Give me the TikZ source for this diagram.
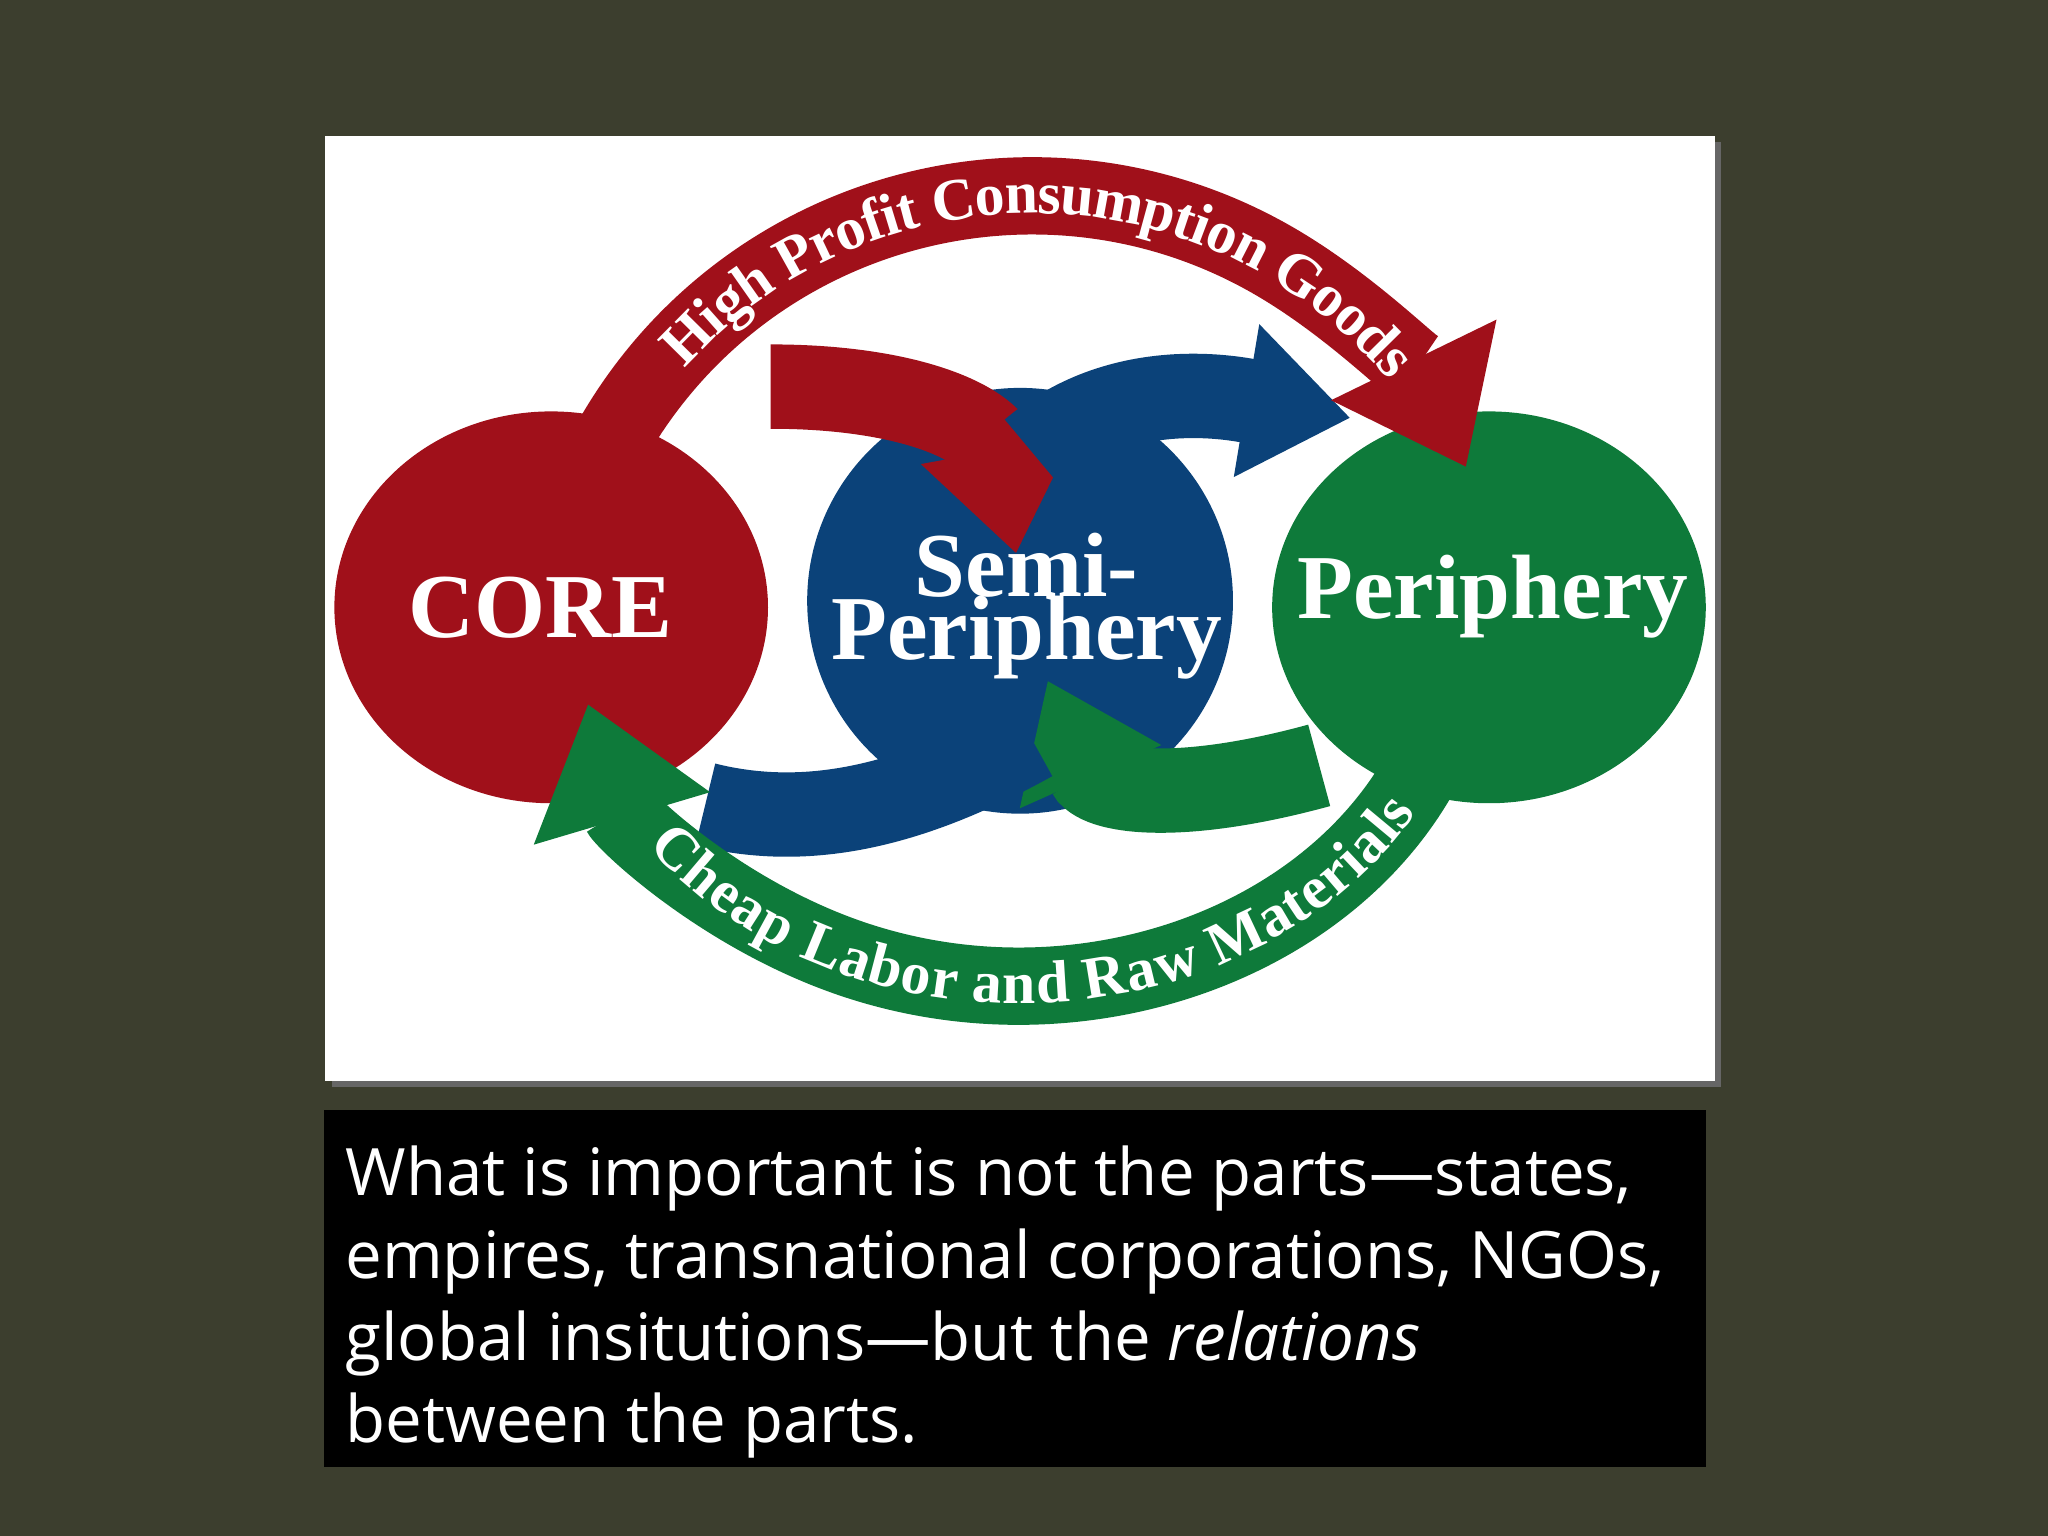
\documentclass[tikz,border=0pt]{standalone}
\usepackage{fontspec}
\setmainfont{Liberation Serif}
\newfontfamily\bodyfont{Open Sans}
\usetikzlibrary{arrows.meta,decorations.text}
\definecolor{bg}{HTML}{3C3E2E}
\definecolor{cred}{HTML}{A0101A}
\definecolor{cblue}{HTML}{0B4279}
\definecolor{cgreen}{HTML}{0E7A3A}
\tikzset{
 lbl/.style={text=white,font=\bfseries\fontsize{26}{26}\selectfont,align=center,inner sep=0},
 band/.style={line width=22pt},
 bigtip/.style={-{Triangle[width=50pt,length=34pt]}},
 smalltip/.style={-{Triangle[width=42pt,length=30pt]}},
}
\begin{document}
\begin{tikzpicture}[x=0.013061cm,y=0.013061cm]
\fill[bg] (0,0) rectangle (1568,1176);
\useasboundingbox (0,0) rectangle (1568,1176);
\fill[black!60] (254,344) rectangle (1318,1067);
\fill[white] (249,348) rectangle (1313,1072);
% circles
\fill[cred] (422,711) ellipse (166 and 150);
\fill[cblue] (781,716) circle (163);
\fill[cgreen] (1140,711) ellipse (166 and 150);
% inner arrows
\draw[cred,line width=24pt,smalltip] (590,880) .. controls (700,880) and (760,850) .. (778,752);
\draw[cblue,line width=24pt,smalltip] (790,830) .. controls (860,890) and (950,870) .. (1034,856);
\draw[cgreen,line width=24pt,smalltip] (1010,590) .. controls (900,560) and (840,570) .. (802,655);
\draw[cblue,line width=24pt] (790,610) .. controls (700,560) and (620,540) .. (540,560);
% big arcs
\draw[cred,band,bigtip] (790,656) ++(150:370) arc[start angle=150,end angle=26,radius=370];
\path[decorate,decoration={text along path,text align=center,raise=-5pt,
 text={|\color{white}\bfseries\fontsize{17}{17}\selectfont|High Profit Consumption Goods}}]
 (790,656) ++(150:370) arc[start angle=150,end angle=28,radius=370];
\draw[cgreen,band,bigtip] (780,706) ++(-22:340 and 285) arc[start angle=-22,end angle=-166,x radius=340,y radius=285];
\path[decorate,decoration={text along path,text align=center,raise=-5pt,
 text={|\color{white}\bfseries\fontsize{17}{17}\selectfont|Cheap Labor and Raw Materials}}]
 (780,706) ++(-152:340 and 285) arc[start angle=-152,end angle=-22,x radius=340,y radius=285];
% labels
\node[lbl] (core) at (414,711) {CORE};
\node[lbl] (semi) at (786,712) {Semi-\\[-8pt]Periphery};
\node[lbl] (peri) at (1143,719) {Periphery};
% text box
\fill[black] (248,53) rectangle (1306,326);
\node[anchor=north west,text=white,align=left,inner sep=0,font=\bodyfont\fontsize{18.6}{23.4}\selectfont] (txt) at (264,299)
{What is important is not the parts—states,\\empires, transnational corporations, NGOs,\\global insitutions—but the \textit{relations}\\between the parts.};
\end{tikzpicture}
\end{document}
